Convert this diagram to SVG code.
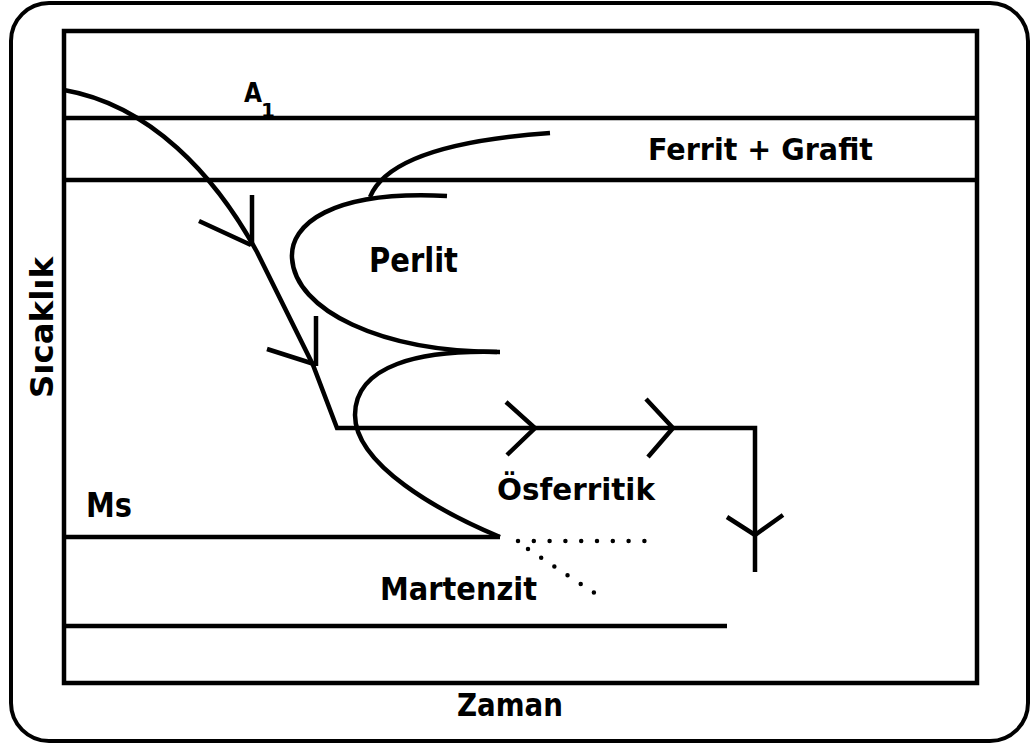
<svg xmlns="http://www.w3.org/2000/svg" width="1032" height="747" viewBox="0 0 1032 747">
<style>
.ln{fill:none;stroke:#000;stroke-width:4.5;stroke-linejoin:miter}
.dot{fill:none;stroke:#000;stroke-width:4.5;stroke-linecap:round;stroke-dasharray:0 15.8}
.t{font-family:"DejaVu Sans","Liberation Sans",sans-serif;font-weight:bold;fill:#000}
</style>
<rect width="1032" height="747" fill="#fff"/>
<g id="frame">
<rect x="11" y="3" width="1017" height="738" rx="38" ry="38" fill="none" stroke="#000" stroke-width="4"/>
<rect x="64" y="31" width="913" height="652" class="ln"/>
</g>
<g id="levels">
<line x1="64" y1="118" x2="977" y2="118" class="ln"/>
<line x1="64" y1="180" x2="977" y2="180" class="ln"/>
<line x1="64" y1="537" x2="500" y2="537" class="ln"/>
<line x1="64" y1="626" x2="727" y2="626" class="ln"/>
</g>
<g id="curves">
<path class="ln" d="M370,197 C385,160 450,140 550,133"/>
<path class="ln" d="M447,196 C330,190 290,225 292,258 C295,310 380,352 500,352"/>
<path class="ln" d="M497,352 C420,350 355,365 355,415 C355,465 440,512 500,537"/>
</g>
<g id="connectors">
<path class="ln" d="M64,90 C150,105 215,175 257,252 L313,365 L337,428 L755,428 L755,572"/>
<path class="ln" d="M252,195 L252,246 M199,221 L251,245"/>
<path class="ln" d="M316,316 L316,366 M267,349 L314,364"/>
<path class="ln" d="M506,402 L535,428 L507,455"/>
<path class="ln" d="M646,399 L673,428 L648,457"/>
<path class="ln" d="M727,517 L755,535 L783,515"/>
<path class="dot" d="M518,541 L650,541"/>
<path class="dot" d="M528,549 L596,594"/>
</g>
<g id="labels">
<text class="t" x="244" y="102" font-size="26" textLength="18" lengthAdjust="spacingAndGlyphs">A</text>
<text class="t" x="261" y="117" font-size="20">1</text>
<text class="t" x="648" y="160" font-size="31" textLength="225" lengthAdjust="spacingAndGlyphs">Ferrit + Grafit</text>
<text class="t" x="369" y="272" font-size="33" textLength="89" lengthAdjust="spacingAndGlyphs">Perlit</text>
<text class="t" x="497" y="500" font-size="31" textLength="158" lengthAdjust="spacingAndGlyphs">Ösferritik</text>
<text class="t" x="86" y="517" font-size="33" textLength="46" lengthAdjust="spacingAndGlyphs">Ms</text>
<text class="t" x="380" y="600" font-size="32" textLength="157" lengthAdjust="spacingAndGlyphs">Martenzit</text>
<text class="t" x="457" y="716" font-size="32" textLength="106" lengthAdjust="spacingAndGlyphs">Zaman</text>
<text class="t" transform="translate(53,398) rotate(-90)" x="0" y="0" font-size="32" textLength="141" lengthAdjust="spacingAndGlyphs">Sıcaklık</text>
</g>
</svg>
